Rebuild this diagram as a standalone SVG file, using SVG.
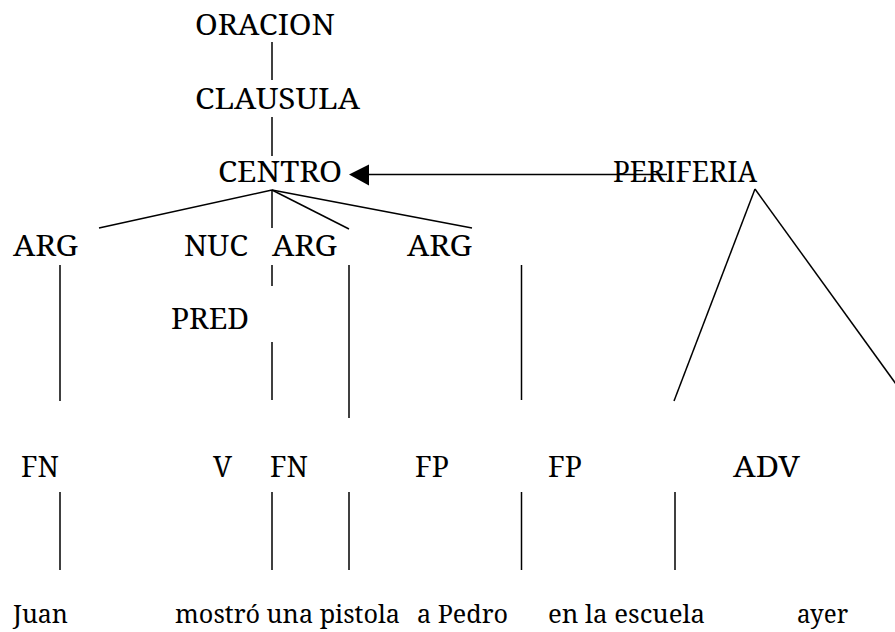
<svg xmlns="http://www.w3.org/2000/svg" width="895" height="632" viewBox="0 0 895 632">
<style>
text{font-family:'Noto Serif','DejaVu Serif Condensed','DejaVu Serif',serif;font-size:29px;fill:#000}
text.w{font-size:26px}
.l{stroke:#000;stroke-width:1.5;fill:none}
</style>
<rect width="895" height="632" fill="#fff"/>
<g id="connectors">
<line class="l" x1="272" y1="42" x2="272" y2="80"/>
<line class="l" x1="272" y1="117" x2="272" y2="156"/>
<line class="l" x1="667" y1="174.5" x2="369" y2="174.5"/>
<path d="M349,174.5 L369,164.5 L369,185.5 Z" fill="#000"/>
<line class="l" x1="272" y1="190" x2="99" y2="228"/>
<line class="l" x1="272" y1="190" x2="272" y2="228"/>
<line class="l" x1="272" y1="190" x2="349" y2="229"/>
<line class="l" x1="272" y1="190" x2="472" y2="228"/>
<line class="l" x1="60" y1="265" x2="60" y2="401"/>
<line class="l" x1="272" y1="265" x2="272" y2="286"/>
<line class="l" x1="272" y1="342" x2="272" y2="400"/>
<line class="l" x1="349" y1="265" x2="349" y2="418"/>
<line class="l" x1="521.5" y1="265" x2="521.5" y2="400"/>
<line class="l" x1="755" y1="189" x2="674" y2="401"/>
<line class="l" x1="755" y1="189" x2="896" y2="384"/>
<line class="l" x1="60" y1="492" x2="60" y2="570"/>
<line class="l" x1="272" y1="492" x2="272" y2="570"/>
<line class="l" x1="349" y1="492" x2="349" y2="570"/>
<line class="l" x1="521.5" y1="492" x2="521.5" y2="570"/>
<line class="l" x1="675" y1="492" x2="675" y2="570"/>
</g>
<g id="oracion"><text x="195" y="35" textLength="140" lengthAdjust="spacingAndGlyphs">ORACION</text></g>
<g id="clausula"><text x="195" y="109" textLength="165" lengthAdjust="spacingAndGlyphs">CLAUSULA</text></g>
<g id="centro"><text x="218" y="182" textLength="124" lengthAdjust="spacingAndGlyphs">CENTRO</text></g>
<g id="periferia"><text x="613" y="182" textLength="144" lengthAdjust="spacingAndGlyphs">PERIFERIA</text></g>
<g id="arg1"><text x="13" y="256" textLength="65" lengthAdjust="spacingAndGlyphs">ARG</text></g>
<g id="nuc"><text x="184" y="256" textLength="64" lengthAdjust="spacingAndGlyphs">NUC</text></g>
<g id="arg2"><text x="272" y="256" textLength="65" lengthAdjust="spacingAndGlyphs">ARG</text></g>
<g id="arg3"><text x="407" y="256" textLength="65" lengthAdjust="spacingAndGlyphs">ARG</text></g>
<g id="pred"><text x="171" y="329" textLength="78" lengthAdjust="spacingAndGlyphs">PRED</text></g>
<g id="fn1"><text x="21" y="477" textLength="38" lengthAdjust="spacingAndGlyphs">FN</text></g>
<g id="v"><text x="213" y="477" textLength="19" lengthAdjust="spacingAndGlyphs">V</text></g>
<g id="fn2"><text x="270" y="477" textLength="38" lengthAdjust="spacingAndGlyphs">FN</text></g>
<g id="fp1"><text x="415" y="477" textLength="34" lengthAdjust="spacingAndGlyphs">FP</text></g>
<g id="fp2"><text x="548" y="477" textLength="34" lengthAdjust="spacingAndGlyphs">FP</text></g>
<g id="adv"><text x="733" y="477" textLength="67" lengthAdjust="spacingAndGlyphs">ADV</text></g>
<g id="juan"><text class="w" x="13" y="623" textLength="55" lengthAdjust="spacingAndGlyphs">Juan</text></g>
<g id="mostro"><text class="w" x="175" y="623" textLength="225" lengthAdjust="spacingAndGlyphs">mostró una pistola</text></g>
<g id="pedro"><text class="w" x="417" y="623" textLength="91" lengthAdjust="spacingAndGlyphs">a Pedro</text></g>
<g id="escuela"><text class="w" x="548" y="623" textLength="157" lengthAdjust="spacingAndGlyphs">en la escuela</text></g>
<g id="ayer"><text class="w" x="797" y="623" textLength="51" lengthAdjust="spacingAndGlyphs">ayer</text></g>
</svg>
